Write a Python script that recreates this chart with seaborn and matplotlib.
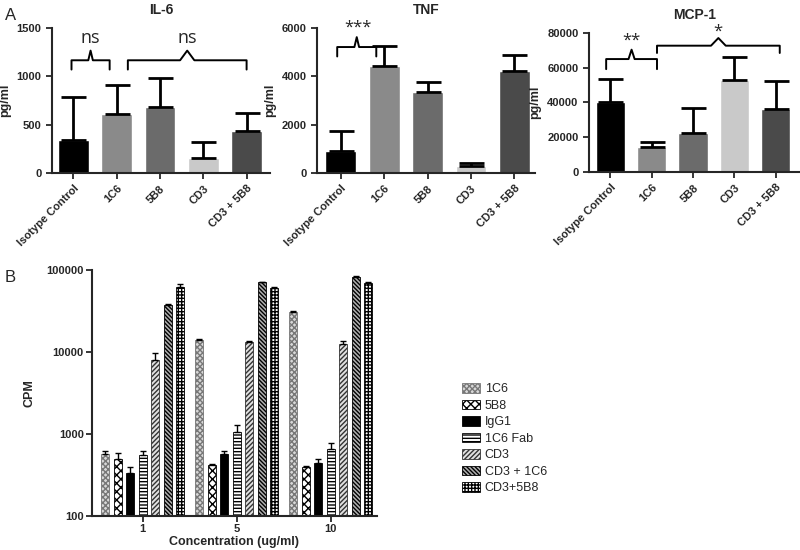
import matplotlib
matplotlib.use("Agg")
import matplotlib.pyplot as plt
from matplotlib.patches import Patch
import seaborn as sns
import pandas as pd
import numpy as np

sns.set_style("ticks")
plt.rcParams['font.family'] = ['Liberation Sans', 'DejaVu Sans']
plt.rcParams['hatch.linewidth'] = 1.0

# ---- Panel A data (pg/ml, mean and upper error end) ----
groups_a = ["Isotype Control", "1C6", "5B8", "CD3", "CD3 + 5B8"]
colors_a = ["#000000", "#8a8a8a", "#6b6b6b", "#c9c9c9", "#4a4a4a"]

il6_mean = [340, 605, 678, 151, 437]
il6_top = [791, 915, 984, 320, 616]

tnf_mean = [926, 4438, 3346, 290, 4230]
tnf_top = [1742, 5240, 3774, 400, 4880]

mcp1_mean = [40000, 14400, 22700, 52900, 36500]
mcp1_top = [53800, 17500, 36700, 66100, 52300]

# ---- Panel B data (CPM) ----
conc = ["1", "5", "10"]
treatments = ["1C6", "5B8", "IgG1", "1C6 Fab", "CD3", "CD3 + 1C6", "CD3+5B8"]
cpm_1 = [570, 490, 338, 560, 8000, 37500, 62600]
cpm_5 = [14200, 423, 570, 1060, 13200, 71400, 60300]
cpm_10 = [31000, 400, 447, 662, 12400, 82900, 70100]
err_1 = [626, 581, 400, 615, 9800, 38500, 67500]
err_5 = [14400, 430, 615, 1300, 13500, 72500, 61500]
err_10 = [31500, 405, 500, 770, 13700, 84000, 71500]

hatches_b = ["xxxxxx", "xxxx", "", "-----", "///////", "\\\\\\\\\\\\\\\\", "+++++"]
faces_b = ["#d8d8d8", "white", "black", "white", "#e0e0e0", "#b0b0b0", "white"]
edges_b = ["#777777", "black", "black", "black", "#333333", "black", "black"]

fig = plt.figure(figsize=(8, 5.5), dpi=100)


def brace(ax, x0, x1, y, drop, peak):
    xm = (x0 + x1) / 2
    d = (x1 - x0) * 0.06
    ax.plot([x0, x0, xm - d, xm, xm + d, x1, x1],
            [y - drop, y, y, y + peak, y, y, y - drop],
            color="black", lw=1.4, clip_on=False)


def cytokine_panel(rect, title, means, tops, ymax, yticks, xlim):
    ax = fig.add_axes(rect)
    df = pd.DataFrame({"group": groups_a, "value": means})
    sns.barplot(data=df, x="group", y="value", hue="group", palette=colors_a,
                width=0.71, errorbar=None, legend=False, ax=ax, saturation=1)
    xs = [p.get_x() + p.get_width() / 2 for p in ax.patches]
    hs = [p.get_height() for p in ax.patches]
    up = [t - m for t, m in zip(tops, hs)]
    ax.errorbar(xs, hs, yerr=[np.zeros(len(hs)), up], fmt="none",
                ecolor="black", elinewidth=2, capsize=9, capthick=2)
    ax.set_ylim(0, ymax)
    ax.set_yticks(yticks)
    ax.set_xlim(*xlim)
    ax.set_xlabel("")
    ax.set_ylabel("pg/ml", fontweight="bold", fontsize=9, labelpad=4)
    ax.set_title(title, fontweight="bold", fontsize=10, pad=10)
    ax.tick_params(axis="both", labelsize=8, width=1.3, length=4)
    plt.setp(ax.get_xticklabels(), rotation=45, ha="right",
             rotation_mode="anchor", fontweight="bold")
    plt.setp(ax.get_yticklabels(), fontweight="bold")
    for s in ["left", "bottom"]:
        ax.spines[s].set_linewidth(1.5)
    sns.despine(ax=ax)
    return ax


ax1 = cytokine_panel([0.065, 0.6855, 0.2725, 0.2636], "IL-6", il6_mean, il6_top,
                     1500, [0, 500, 1000, 1500], (-0.49, 4.54))
brace(ax1, -0.04, 0.84, 1166, 96, 100)
brace(ax1, 1.26, 4.0, 1166, 96, 100)
ax1.text(0.4, 1400, "ns", ha="center", va="center", fontsize=13, family="Open Sans")
ax1.text(2.63, 1400, "ns", ha="center", va="center", fontsize=13, family="Open Sans")

ax2 = cytokine_panel([0.396, 0.6855, 0.273, 0.2636], "TNF", tnf_mean, tnf_top,
                     6000, [0, 2000, 4000, 6000], (-0.55, 4.48))
brace(ax2, -0.08, 0.82, 5212, 390, 410)
ax2.text(0.4, 6020, "***", ha="center", va="center", fontsize=12, family="Open Sans")

ax3 = cytokine_panel([0.736, 0.6873, 0.264, 0.2527], "MCP-1", mcp1_mean, mcp1_top,
                     80000, [0, 20000, 40000, 60000, 80000], (-0.52, 4.59))
brace(ax3, -0.1, 1.13, 65000, 5800, 5400)
brace(ax3, 1.13, 4.1, 72700, 4200, 4400)
ax3.text(0.52, 75500, "**", ha="center", va="center", fontsize=12, family="Open Sans")
ax3.text(2.6, 80500, "*", ha="center", va="center", fontsize=12, family="Open Sans")

# ---- Panel B ----
axb = fig.add_axes([0.115, 0.0618, 0.356, 0.447])
rows = []
for c, vals in zip(conc, [cpm_1, cpm_5, cpm_10]):
    for t, v in zip(treatments, vals):
        rows.append({"conc": c, "treatment": t, "cpm": v})
dfb = pd.DataFrame(rows)
sns.barplot(data=dfb, x="conc", y="cpm", hue="treatment", hue_order=treatments,
            width=0.93, gap=0.36, errorbar=None, ax=axb, legend=False,
            palette=["white"] * 7, saturation=1)
axb.set_yscale("log")
err_all = [err_1, err_5, err_10]
bar_conts = list(axb.containers)
for i, cont in enumerate(bar_conts):
    for j, p in enumerate(cont.patches):
        p.set_facecolor(faces_b[i])
        p.set_edgecolor(edges_b[i])
        p.set_hatch(hatches_b[i])
        p.set_linewidth(0.6)
        x = p.get_x() + p.get_width() / 2
        h = p.get_height()
        axb.errorbar([x], [h], yerr=[[0], [err_all[j][i] - h]], fmt="none",
                     ecolor="black", elinewidth=1, capsize=2.5, capthick=1)
axb.set_ylim(100, 100000)
axb.set_xlim(-0.54, 2.49)
axb.set_yticks([100, 1000, 10000, 100000])
axb.set_yticklabels(["100", "1000", "10000", "100000"])
axb.minorticks_off()
axb.set_ylabel("CPM", fontweight="bold", fontsize=9, labelpad=8)
axb.set_xlabel("Concentration (ug/ml)", fontweight="bold", fontsize=9, labelpad=1)
axb.tick_params(axis="both", labelsize=8, width=1.3, length=4, pad=2)
plt.setp(axb.get_xticklabels(), fontweight="bold")
plt.setp(axb.get_yticklabels(), fontweight="bold")
for s in ["left", "bottom"]:
    axb.spines[s].set_linewidth(1.5)
sns.despine(ax=axb)

handles = [Patch(facecolor=f, edgecolor=e, hatch=h, linewidth=0.6)
           for f, e, h in zip(faces_b, edges_b, hatches_b)]
axb.legend(handles, treatments, loc="center left", bbox_to_anchor=(1.26, 0.315),
           frameon=False, fontsize=9, handlelength=1.4, handleheight=0.8,
           labelspacing=0.35, handletextpad=0.4)

fig.text(0.006, 0.985, "A", fontsize=12, va="top")
fig.text(0.006, 0.51, "B", fontsize=12, va="top")

fig.savefig("out.png", dpi=100)
